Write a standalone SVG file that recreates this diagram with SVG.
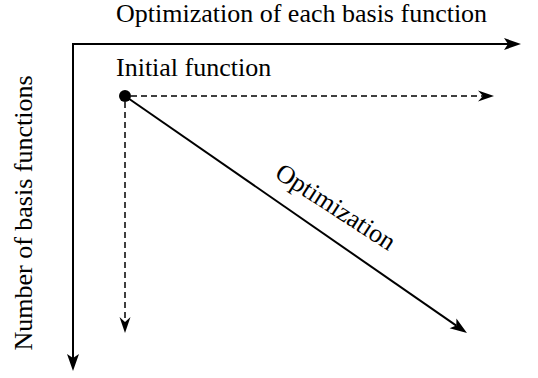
<svg xmlns="http://www.w3.org/2000/svg" width="538" height="378" viewBox="0 0 538 378">
<style>
.t{font-family:"Liberation Serif","Times New Roman",serif;font-size:26px;fill:#000}
.ax{fill:none;stroke:#000;stroke-width:2}
.dash{fill:none;stroke:#000;stroke-width:1.5;stroke-dasharray:6,4}
</style>
<defs>
<marker id="big" markerUnits="userSpaceOnUse" viewBox="-5 -7 22 14" refX="0" refY="0" markerWidth="22" markerHeight="14" orient="auto">
<path d="M13,0 L-4,-6 L0,0 L-4,6 Z" fill="#000"/>
</marker>
<marker id="small" markerUnits="userSpaceOnUse" viewBox="-6 -7 20 14" refX="0" refY="0" markerWidth="20" markerHeight="14" orient="auto">
<path d="M11,0 L-5,-5.5 L0,0 L-5,5.5 Z" fill="#000"/>
</marker>
</defs>
<g id="connectors">
<path class="ax" d="M72,44 L508,44" marker-end="url(#big)"/>
<path class="ax" d="M73,43 L73,358" marker-end="url(#big)"/>
<path class="dash" d="M131,96 L483,96" marker-end="url(#small)"/>
<path class="dash" d="M125,102 L125,322" marker-end="url(#small)"/>
<path class="ax" d="M125,96 L456.3,325.6" marker-end="url(#big)"/>
</g>
<g id="axis-x-label"><text class="t" x="116" y="22">Optimization of each basis function</text></g>
<g id="axis-y-label"><text class="t" transform="translate(32,213) rotate(-90)" text-anchor="middle">Number of basis functions</text></g>
<g id="initial"><text class="t" x="116" y="76">Initial function</text><circle cx="125" cy="96" r="6" fill="#000"/></g>
<g id="diag-label"><text class="t" transform="translate(331,214) rotate(33)" text-anchor="middle">Optimization</text></g>
</svg>
